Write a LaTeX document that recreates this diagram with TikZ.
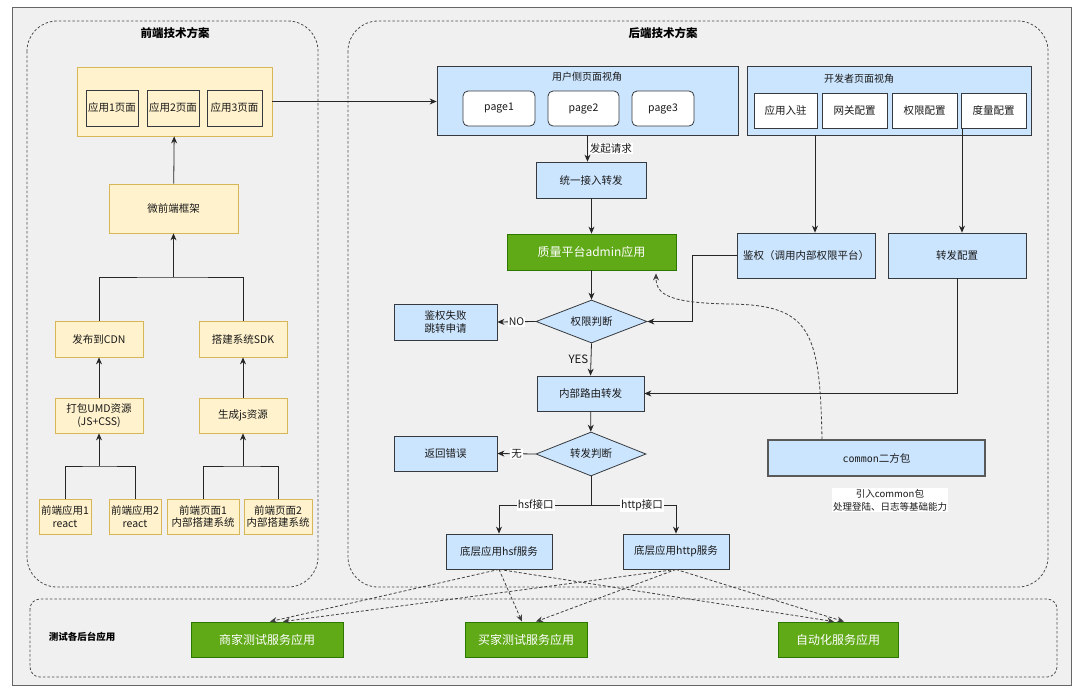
\documentclass[tikz,border=0pt]{standalone}
\usepackage{fontspec}
\setmainfont{Noto Sans CJK SC}
\newfontfamily\monofont{DejaVu Sans Mono}
\usetikzlibrary{positioning,arrows.meta,shapes.geometric,calc}
\definecolor{bggray}{HTML}{F0F0F0}
\definecolor{feyel}{HTML}{FFF2CC}
\definecolor{feline}{HTML}{D6B656}
\definecolor{beblue}{HTML}{CCE5FF}
\definecolor{beline}{HTML}{36393D}
\definecolor{qgreen}{HTML}{60A917}
\definecolor{qgline}{HTML}{2D7600}

\begin{document}
\begin{tikzpicture}[x=1pt, y=-1pt, >={Stealth[length=7pt,width=6pt]},
  every node/.style={font=\fontsize{10.5}{12.5}\selectfont, text=black!90},
  fe/.style={draw=feline, fill=feyel, line width=0.8pt, inner sep=1pt, align=center},
  fepage/.style={draw=beline, fill=feyel, line width=1pt, inner sep=1pt, minimum height=36pt},
  be/.style={draw=beline, fill=beblue, line width=0.8pt, inner sep=1pt, align=center},
  wbox/.style={draw=beline, fill=white, line width=1pt, inner sep=1pt, minimum height=35pt},
  pagebox/.style={draw=beline, fill=white, line width=0.8pt, rounded corners=5pt, minimum height=35pt},
  grn/.style={draw=qgline, fill=qgreen, line width=0.8pt, text=white, inner sep=1pt,
    font=\fontsize{12}{14}\selectfont},
  decide/.style={diamond, aspect=2.6, draw=beline, fill=beblue, line width=0.8pt, inner sep=0pt},
  group/.style={draw=black!70, dash pattern=on 2.5pt off 2pt, rounded corners=30pt, line width=0.8pt},
  grouptitle/.style={font=\bfseries\fontsize{11.5}{13}\selectfont, text=black},
  flow/.style={->, draw=black!85, line width=0.8pt},
  link/.style={draw=black!85, line width=0.8pt},
  weak/.style={->, draw=black!75, dash pattern=on 3pt off 2pt, line width=0.8pt},
  tag/.style={fill=white, inner sep=1pt}
]
\useasboundingbox (0,0) rectangle (1080,697);
\draw[draw=black!60, fill=bggray, line width=1pt] (12,7) rectangle (1071,685);

% groups
\draw[group] (27,21) rectangle (318,587);
\draw[group] (348,21) rectangle (1048,587);
\draw[group, rounded corners=10pt] (30,599) rectangle (1057,677);
\node[grouptitle] (fetitle) at (175,33) {前端技术方案};
\node[grouptitle] (betitle) at (663,33) {后端技术方案};
\node[grouptitle, font=\bfseries\fontsize{9.5}{11}\selectfont] (testtitle) at (82,637) {测试各后台应用};

% front end
\node[fe, minimum width=195pt, minimum height=69pt] (fepages) at (174.5,101.5) {};
\node[fepage, minimum width=52pt] (app1page) at (112,108) {应用1页面};
\node[fepage, minimum width=52pt] (app2page) at (173,108) {应用2页面};
\node[fepage, minimum width=55pt] (app3page) at (234.5,108) {应用3页面};
\node[fe, minimum width=129pt, minimum height=49pt] (mfe) at (173.5,208.5) {微前端框架};
\node[fe, minimum width=88pt, minimum height=36pt] (cdn) at (99,339) {发布到CDN};
\node[fe, minimum width=88pt, minimum height=36pt] (sdk) at (243,339) {搭建系统SDK};
\node[fe, minimum width=88pt, minimum height=35pt] (umd) at (99,415.5) {打包UMD资源\\(JS+CSS)};
\node[fe, minimum width=88pt, minimum height=35pt] (genjs) at (243,415.5) {生成js资源};
\node[fe, minimum width=52pt, minimum height=35pt] (feapp1) at (65,516.5) {前端应用1\\react};
\node[fe, minimum width=52pt, minimum height=35pt] (feapp2) at (135,516.5) {前端应用2\\react};
\node[fe, minimum width=72pt, minimum height=35pt] (fepage1) at (203,516.5) {前端页面1\\内部搭建系统};
\node[fe, minimum width=68pt, minimum height=35pt] (fepage2) at (278,516.5) {前端页面2\\内部搭建系统};

\coordinate (joinumd) at (99,466);
\coordinate (joingen) at (243,466);
\coordinate (joinmfe) at (173.5,277);
\draw[link] (feapp1.north) |- (joinumd) -| (feapp2.north);
\draw[flow] (joinumd) -- (umd.south);
\draw[link] (fepage1.north) |- (joingen) -| (fepage2.north);
\draw[flow] (joingen) -- (genjs.south);
\draw[flow] (umd) -- (cdn);
\draw[flow] (genjs) -- (sdk);
\draw[link] (cdn.north) |- (joinmfe) -| (sdk.north);
\draw[flow] (joinmfe) -- (mfe.south);
\draw[flow] (mfe) -- (fepages);

% back end
\node[be, minimum width=301pt, minimum height=69pt] (userview) at (587.5,100.5) {};
\node[font=\fontsize{10}{11}\selectfont] (usertitle) at (587,77) {用户侧页面视角};
\node[pagebox, minimum width=72pt] (page1) at (499,108.5) {page1};
\node[pagebox, minimum width=71pt] (page2) at (583.5,108.5) {page2};
\node[pagebox, minimum width=62pt] (page3) at (663,108.5) {page3};
\node[be, minimum width=284pt, minimum height=69pt] (devview) at (889,100.5) {};
\node[font=\fontsize{10}{11}\selectfont] (devtitle) at (859,79) {开发者页面视角};
\node[wbox, minimum width=63pt] (devin) at (785.5,110.5) {应用入驻};
\node[wbox, minimum width=65pt] (devgw) at (854.5,110.5) {网关配置};
\node[wbox, minimum width=65pt] (devperm) at (924.5,110.5) {权限配置};
\node[wbox, minimum width=65pt] (devmetric) at (993.5,110.5) {度量配置};

\node[be, minimum width=110pt, minimum height=36pt] (gateway) at (591,180) {统一接入转发};
\node[grn, minimum width=169pt, minimum height=36pt] (admin) at (591.5,252) {质量平台admin应用};
\node[be, minimum width=138pt, minimum height=45pt] (auth) at (806,255.5) {鉴权（调用内部权限平台）};
\node[be, minimum width=138pt, minimum height=45pt] (fwdcfg) at (957,255.5) {转发配置};
\node[decide, minimum width=111pt, minimum height=43pt] (permcheck) at (591.5,321.5) {权限判断};
\node[be, minimum width=103pt, minimum height=36pt] (authfail) at (445.5,322) {鉴权失败\\跳转申请};
\node[be, minimum width=107pt, minimum height=35pt] (route) at (590.5,393.5) {内部路由转发};
\node[decide, minimum width=110pt, minimum height=44pt] (fwdcheck) at (591,454) {转发判断};
\node[be, minimum width=103pt, minimum height=35pt] (reterr) at (445.5,453.5) {返回错误};
\node[be, minimum width=106pt, minimum height=35pt] (hsfsvc) at (499,551.5) {底层应用hsf服务};
\node[be, minimum width=106pt, minimum height=35pt] (httpsvc) at (676,551.5) {底层应用http服务};
\node[be, line width=1.5pt, draw=black!65, minimum width=217pt, minimum height=36pt] (common) at (876.5,458) {{\monofont\fontsize{10}{11}\selectfont common}二方包};
\node[tag, align=center, font=\fontsize{9.5}{13}\selectfont] (commonnote) at (890,500) {引入common包\\处理登陆、日志等基础能力};

\draw[flow] (fepages.east) -- (fepages.east -| userview.west);
\draw[flow] (userview.south) -- node[right, tag, xshift=1pt] {发起请求} (userview.south |- gateway.north);
\draw[flow] (gateway.south -| admin.south) -- (admin.north);
\draw[flow] (admin) -- (permcheck);
\draw[flow] ($(devview.south -| auth.north)+(9,0)$) -- ($(auth.north)+(9,0)$);
\draw[flow] ($(devmetric.south -| fwdcfg.north)+(5,0)$) -- ($(fwdcfg.north)+(5,0)$);
\draw[flow] (auth.west) -- ++(-44,0) |- (permcheck.east);
\draw[flow] (permcheck.west) -- node[tag] {NO} (authfail.east);
\draw[flow] (permcheck.south) -- node[left, font=\fontsize{11.5}{13}\selectfont, xshift=1pt] {YES} (route.north);
\draw[flow] (fwdcfg.south) |- (route.east);
\draw[flow] (route) -- (fwdcheck);
\draw[flow] (fwdcheck.west) -- node[tag] {无} (reterr.east);
\coordinate (split) at (591,505);
\draw[link] (fwdcheck.south) -- (split);
\draw[flow] (split) -| node[pos=0.3, tag] {hsf接口} (hsfsvc.north);
\draw[flow] (split) -| node[pos=0.3, tag] {http接口} (httpsvc.north);
\draw[weak] ($(common.north)+(-54.5,0)$) .. controls (820,330) and (810,305) .. (730,304)
  .. controls (670,303) and (656,295) .. ($(admin.south)+(64.5,3)$);

% test apps
\node[grn, minimum width=152pt, minimum height=35pt] (shopapp) at (267,639.5) {商家测试服务应用};
\node[grn, minimum width=122pt, minimum height=35pt] (buyerapp) at (526,639.5) {买家测试服务应用};
\node[grn, minimum width=120pt, minimum height=35pt] (autoapp) at (838,639.5) {自动化服务应用};
\draw[weak] (hsfsvc.south) -- ($(shopapp.north)+(3,0)$);
\draw[weak] (hsfsvc.south) -- ($(buyerapp.north)+(-4,0)$);
\draw[weak] (hsfsvc.south) -- ($(autoapp.north)+(-4,0)$);
\draw[weak] (httpsvc.south) -- ($(shopapp.north)+(16,0)$);
\draw[weak] (httpsvc.south) -- ($(buyerapp.north)+(10,0)$);
\draw[weak] (httpsvc.south) -- ($(autoapp.north)+(6,0)$);
\end{tikzpicture}
\end{document}
